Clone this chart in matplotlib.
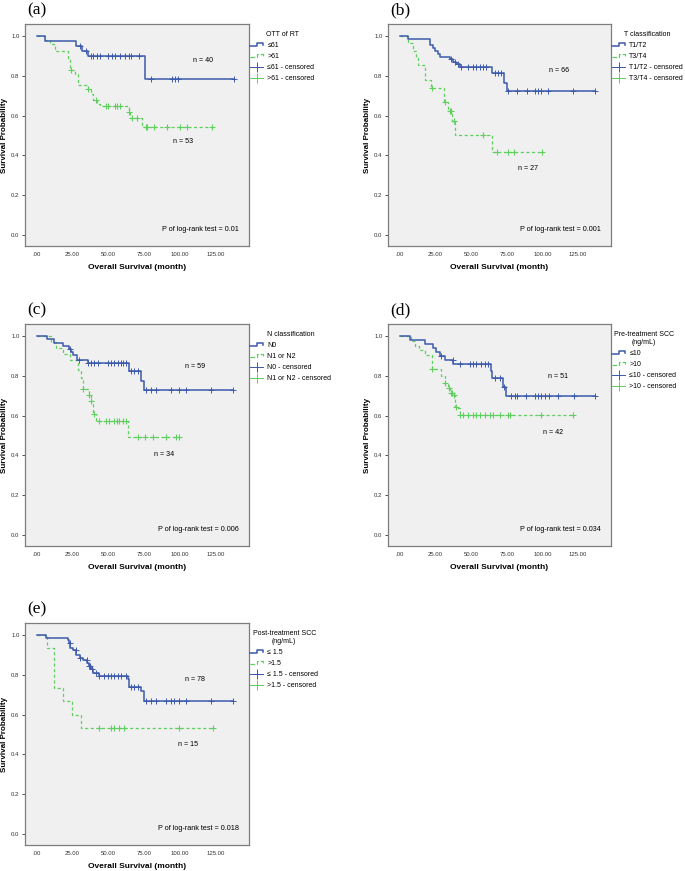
import numpy as np
import matplotlib.pyplot as plt
from matplotlib.lines import Line2D
from matplotlib.legend_handler import HandlerBase

plt.rcParams['font.family'] = ['Liberation Sans', 'DejaVu Sans']

BLUE = '#3d5aab'
GREEN = '#5fcf5f'

# ---- (a) OTT of RT ----
a_blue_t = [0, 5.5, 27.5, 31.5, 36, 75.5, 137.5]
a_blue_s = [1.0, 0.975, 0.95, 0.924, 0.897, 0.784, 0.784]
a_blue_c = [30, 34, 37.5, 39.5, 42, 44, 50, 52.5, 54.5, 58, 61.5, 64, 66, 71, 80, 94, 96.5, 98.5, 137.5]
a_green_t = [0, 6, 9, 13, 22, 23.5, 27, 29, 35.5, 37.5, 39.5, 42, 44, 64, 65, 73.5, 122]
a_green_s = [1.0, 0.981, 0.962, 0.925, 0.887, 0.83, 0.81, 0.755, 0.736, 0.71, 0.68, 0.66, 0.65, 0.62, 0.587, 0.545, 0.545]
a_green_c = [24, 36, 41.5, 48.5, 50, 54.5, 56, 58, 64, 66.5, 70, 76, 77, 82, 90.5, 100, 104.5, 122]

# ---- (b) T classification ----
b_blue_t = [0, 6, 21.5, 23.5, 25, 26.5, 28, 35.5, 37.5, 39.5, 42, 64.5, 73, 75, 137]
b_blue_s = [1.0, 0.985, 0.955, 0.94, 0.925, 0.91, 0.894, 0.882, 0.87, 0.86, 0.845, 0.812, 0.765, 0.723, 0.723]
b_blue_c = [35.7, 38.6, 41, 43.2, 48, 51.4, 53.7, 56, 58.4, 60.7, 66.6, 69, 71.3, 76, 82.5, 89, 94.6, 97, 99.3, 104, 121.5, 136.5]
b_green_t = [0, 6, 9.5, 11.5, 12.5, 17.5, 22, 31, 34, 36.5, 38.5, 64.5, 100.5]
b_green_s = [1.0, 0.963, 0.926, 0.889, 0.852, 0.778, 0.741, 0.667, 0.622, 0.571, 0.5, 0.416, 0.416]
b_green_c = [22.7, 31.5, 35, 35.7, 37.8, 58.4, 67.8, 76, 80, 99.5]

# ---- (c) N classification ----
c_blue_t = [0, 7, 12, 18, 22.5, 24, 25.5, 28, 35.5, 64.5, 72.5, 75, 137]
c_blue_s = [1.0, 0.983, 0.967, 0.95, 0.935, 0.92, 0.905, 0.88, 0.865, 0.826, 0.775, 0.728, 0.728]
c_blue_c = [23, 29.7, 35.5, 37.9, 40.2, 42.5, 49.5, 51.8, 54.1, 56.5, 58.8, 60.4, 62.3, 65.8, 68.1, 70.4,
            76.2, 79.7, 83.2, 93.6, 99.4, 104.1, 121.5, 136.6]
c_green_t = [0, 10, 13.5, 18, 23, 28.5, 31, 32, 36.5, 38, 39, 41.5, 63.5, 99.5]
c_green_s = [1.0, 0.97, 0.94, 0.91, 0.88, 0.83, 0.79, 0.735, 0.705, 0.675, 0.61, 0.575, 0.49, 0.49]
c_green_c = [32, 36.7, 38, 39.8, 43.2, 48.3, 50.7, 54, 55.8, 57.6, 60, 62.3, 70.4, 75.7, 81.3, 90.1, 97.1, 99]

# ---- (d) Pre-treatment SCC ----
d_blue_t = [0, 7, 17.5, 23.5, 25.5, 28, 31.5, 37.5, 63.8, 64.7, 72.5, 74.8, 137]
d_blue_s = [1.0, 0.98, 0.96, 0.94, 0.92, 0.9, 0.88, 0.86, 0.826, 0.788, 0.746, 0.7, 0.7]
d_blue_c = [29.2, 37.4, 42, 49, 51.4, 53.7, 57.2, 59.6, 62, 67, 70, 73, 78.3, 80.6, 82.5, 88.8, 94.6, 97,
            99.3, 101.6, 104.4, 111, 122.2, 136.5]
d_green_t = [0, 8, 11, 13.5, 17.5, 22.5, 29, 31.5, 34, 35, 37.5, 38.8, 41, 42, 122]
d_green_s = [1.0, 0.976, 0.952, 0.93, 0.905, 0.833, 0.8, 0.762, 0.738, 0.714, 0.705, 0.643, 0.64, 0.605, 0.605]
d_green_c = [22.7, 31.5, 34.3, 35.7, 36.7, 37.8, 39.5, 42.5, 44.4, 47.9, 51.4, 53.7, 56.1, 59.6, 63.1, 65.4,
             70.1, 75.9, 77.1, 99.3, 121.5]

# ---- (e) Post-treatment SCC ----
e_blue_t = [0, 6.5, 21.5, 22.8, 23.5, 25.5, 27.5, 30.2, 32, 35, 36.2, 38, 39, 43.2, 63.5, 64.6, 72.7, 74.6, 137]
e_blue_s = [1.0, 0.987, 0.974, 0.962, 0.936, 0.923, 0.897, 0.885, 0.872, 0.859, 0.846, 0.83, 0.81, 0.795,
            0.78, 0.74, 0.72, 0.666, 0.666]
e_blue_c = [23.2, 27.4, 30.4, 34.9, 36.2, 37.2, 38.6, 41.4, 43.7, 47.2, 49.5, 51.8, 54.1, 56.5, 58.8, 62.3,
            65.8, 68.1, 70.4, 76.2, 79.7, 83.2, 90.1, 93.6, 96, 99.4, 104.1, 121.5, 136.6]
e_green_t = [0, 7, 12, 18, 24.5, 31, 122.7]
e_green_s = [1.0, 0.933, 0.733, 0.667, 0.6, 0.533, 0.533]
e_green_c = [43.7, 51.8, 54.1, 57, 61, 99.4, 122.7]

x_ticks = [0, 25, 50, 75, 100, 125]
x_tick_labels = ['.00', '25.00', '50.00', '75.00', '100.00', '125.00']
y_ticks = [0.0, 0.2, 0.4, 0.6, 0.8, 1.0]


class StepHandler(HandlerBase):
    def create_artists(self, legend, orig_handle, xdescent, ydescent, width, height, fontsize, trans):
        x0, y0 = -xdescent, -ydescent
        xs = [x0, x0 + 0.5 * width, x0 + 0.5 * width, x0 + width, x0 + width]
        ys = [y0 + 0.2 * height, y0 + 0.2 * height, y0 + 0.9 * height, y0 + 0.9 * height, y0 + 0.45 * height]
        ln = Line2D(xs, ys, color=orig_handle.get_color(), lw=orig_handle.get_linewidth(),
                    linestyle=orig_handle.get_linestyle(), transform=trans)
        return [ln]


def surv_at(t, s, tc):
    idx = np.searchsorted(np.asarray(t), np.asarray(tc), side='right') - 1
    return np.asarray(s)[idx]


W, H = 685, 871
fig = plt.figure(figsize=(W / 100, H / 100), dpi=100)


def panel(box, tag, blue, green, labels, title, n_blue, n_green, ptxt):
    left, top, right, bottom = box
    ax = fig.add_axes([left / W, 1 - bottom / H, (right - left) / W, (bottom - top) / H])
    ax.set_facecolor('#f0f0f0')
    for sp in ax.spines.values():
        sp.set_color('#7d7d7d')
        sp.set_linewidth(0.9)

    bt, bs, bc = blue
    gt, gs, gc = green
    ax.step(gt, gs, where='post', color=GREEN, lw=0.9, linestyle=(0, (2.5, 2)))
    ax.plot(gc, surv_at(gt, gs, gc), linestyle='none', marker='+', color=GREEN, ms=4.5, mew=0.8)
    ax.step(bt, bs, where='post', color=BLUE, lw=1.1)
    ax.plot(bc, surv_at(bt, bs, bc), linestyle='none', marker='+', color=BLUE, ms=4.5, mew=0.7)

    ax.set_xlim(-8.2, 148)
    ax.set_ylim(-0.055, 1.06)
    ax.set_xticks(x_ticks)
    ax.set_xticklabels(x_tick_labels)
    ax.set_yticks(y_ticks)
    ax.set_yticklabels([f'{v:.1f}' for v in y_ticks])
    ax.tick_params(labelsize=4.3, length=2.5, width=0.6, pad=1.5, colors='#333333')
    ax.tick_params(axis='x', top=False, bottom=False, pad=2)
    ax.set_xlabel('Overall Survival (month)', fontsize=6, fontweight='bold', labelpad=5)
    ax.set_ylabel('Survival Probability', fontsize=5.8, fontweight='bold', labelpad=2)

    ax.text(n_blue[0], n_blue[1], n_blue[2], fontsize=5.1, ha='center', va='center')
    ax.text(n_green[0], n_green[1], n_green[2], fontsize=5.1, ha='center', va='center')
    ax.text(141, 0.03, ptxt, fontsize=5.2, ha='right', va='center')

    fig.text((left + 2) / W, 1 - (top - 6) / H, tag, fontsize=12.5, family='Liberation Serif',
             ha='left', va='bottom')

    h1 = Line2D([], [], color=BLUE, lw=1.1)
    h2 = Line2D([], [], color=GREEN, lw=0.9, linestyle=(0, (1.5, 1.5)))
    h3 = Line2D([], [], color=BLUE, lw=0.7, marker='+', ms=7, mew=0.7)
    h4 = Line2D([], [], color=GREEN, lw=0.7, marker='+', ms=7, mew=0.7)
    leg = fig.legend([h1, h2, h3, h4], labels, title=title, loc='upper left',
                     bbox_to_anchor=((right + 1) / W, 1 - (top + 7) / H),
                     frameon=False, fontsize=5, title_fontsize=5, handlelength=1.9,
                     handletextpad=0.6, labelspacing=0.58, borderpad=0, borderaxespad=0,
                     handler_map={h1: StepHandler(), h2: StepHandler()})
    leg.get_title().set_multialignment('center')
    return ax


panel((25, 24, 249, 246), '(a)', (a_blue_t, a_blue_s, a_blue_c), (a_green_t, a_green_s, a_green_c),
      ['≤61', '>61', '≤61 - censored', '>61 - censored'], 'OTT of RT',
      (116, 0.876, 'n = 40'), (101.8, 0.47, 'n = 53'), 'P of log-rank test = 0.01')
panel((388, 24, 611, 246), '(b)', (b_blue_t, b_blue_s, b_blue_c), (b_green_t, b_green_s, b_green_c),
      ['T1/T2', 'T3/T4', 'T1/T2 - censored', 'T3/T4 - censored'], 'T classification',
      (111.7, 0.826, 'n = 66'), (90.2, 0.333, 'n = 27'), 'P of log-rank test = 0.001')
panel((25, 324, 249, 546), '(c)', (c_blue_t, c_blue_s, c_blue_c), (c_green_t, c_green_s, c_green_c),
      ['N0', 'N1 or N2', 'N0 - censored', 'N1 or N2 - censored'], 'N classification',
      (110.6, 0.845, 'n = 59'), (88.8, 0.403, 'n = 34'), 'P of log-rank test = 0.006')
panel((388, 324, 611, 546), '(d)', (d_blue_t, d_blue_s, d_blue_c), (d_green_t, d_green_s, d_green_c),
      ['≤10', '>10', '≤10 - censored', '>10 - censored'], 'Pre-treatment SCC\n(ng/mL)',
      (111.2, 0.795, 'n = 51'), (107.3, 0.516, 'n = 42'), 'P of log-rank test = 0.034')
panel((25, 623, 249, 845), '(e)', (e_blue_t, e_blue_s, e_blue_c), (e_green_t, e_green_s, e_green_c),
      ['≤ 1.5', '>1.5', '≤ 1.5 - censored', '>1.5 - censored'], 'Post-treatment SCC\n(ng/mL)',
      (110.1, 0.776, 'n = 78'), (105.8, 0.452, 'n = 15'), 'P of log-rank test = 0.018')

fig.savefig('out.png', dpi=100)
